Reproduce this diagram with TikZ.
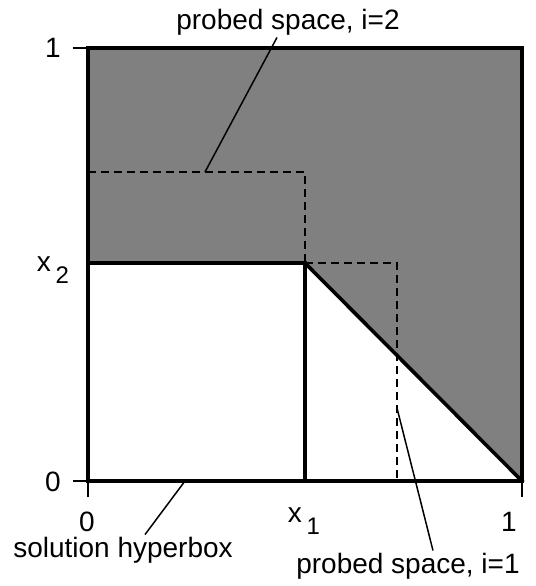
\documentclass[tikz,border=0pt]{standalone}
\usepackage{fontspec}
\setmainfont{Liberation Sans}
\usetikzlibrary{positioning,calc}
\definecolor{probegrey}{RGB}{128,128,128}
\newcommand{\lblsize}{\fontsize{14}{16}\selectfont}
\newcommand{\subsize}{\fontsize{12}{13}\selectfont}
\tikzset{
  edge/.style  ={line width=1.8pt, line cap=rect},
  probe/.style ={line width=0.75pt, dash pattern=on 4pt off 2.5pt},
  lead/.style  ={line width=0.75pt},
  tickmark/.style={line width=0.6pt},
  lbl/.style   ={font=\lblsize, inner sep=1pt},
}
\begin{document}
\begin{tikzpicture}[x=0.5pt,y=-0.5pt]
\useasboundingbox (0,0) rectangle (536,586);
% unit square corners
\coordinate (sw) at (88,481);
\coordinate (se) at (522,481);
\coordinate (ne) at (522,48);
\coordinate (nw) at (88,48);
\coordinate (hx2) at (88,263);
\coordinate (hc) at (305,263);
\coordinate (hx1) at (305,481);

% region outside the feasible set
\fill[probegrey] (nw) -- (ne) -- (se) -- (hc) -- (hx2) -- cycle;

% probed spaces
\draw[probe] (88,172) -- (305,172) -- (hc);
\draw[probe] (hc) -- (397,263) -- (397,481);

% solution hyperbox and frontier
\draw[edge] (hx2) rectangle (hx1);
\draw[edge] (hc) -- (se);
\draw[edge] (nw) rectangle (se);

% ticks
\draw[tickmark] (73,48) -- (nw);
\draw[tickmark] (73,481) -- (sw);
\draw[tickmark] (sw) -- (88,497);
\draw[tickmark] (se) -- (522,497);

% axis labels
\node[lbl] (y1) at (53,48) {1};
\node[lbl] (y0) at (53,482) {0};
\node[lbl] (x0) at (87,522) {0};
\node[lbl] (xone) at (509,522) {1};
\node[lbl] (x1) at (304,521) {x\,\raisebox{-0.45em}{\subsize 1}};
\node[lbl] (x2) at (53,270) {x\,\raisebox{-0.45em}{\subsize 2}};

% callouts
\node[lbl] (p2lbl) at (288,22) {probed space, i=2};
\node[lbl] (solbl) at (123,550) {solution hyperbox};
\node[lbl] (p1lbl) at (408,566) {probed space, i=1};
\coordinate (p2tip) at (205,172);
\coordinate (soltip) at (185,481);
\coordinate (p1tip) at (397,408);
\draw[lead] ($(p2lbl.south)+(-11,0)$) -- (p2tip);
\draw[lead] ($(solbl.north)+(22,0)$) -- (soltip);
\draw[lead] ($(p1lbl.north)+(25,0)$) -- (p1tip);
\end{tikzpicture}
\end{document}
